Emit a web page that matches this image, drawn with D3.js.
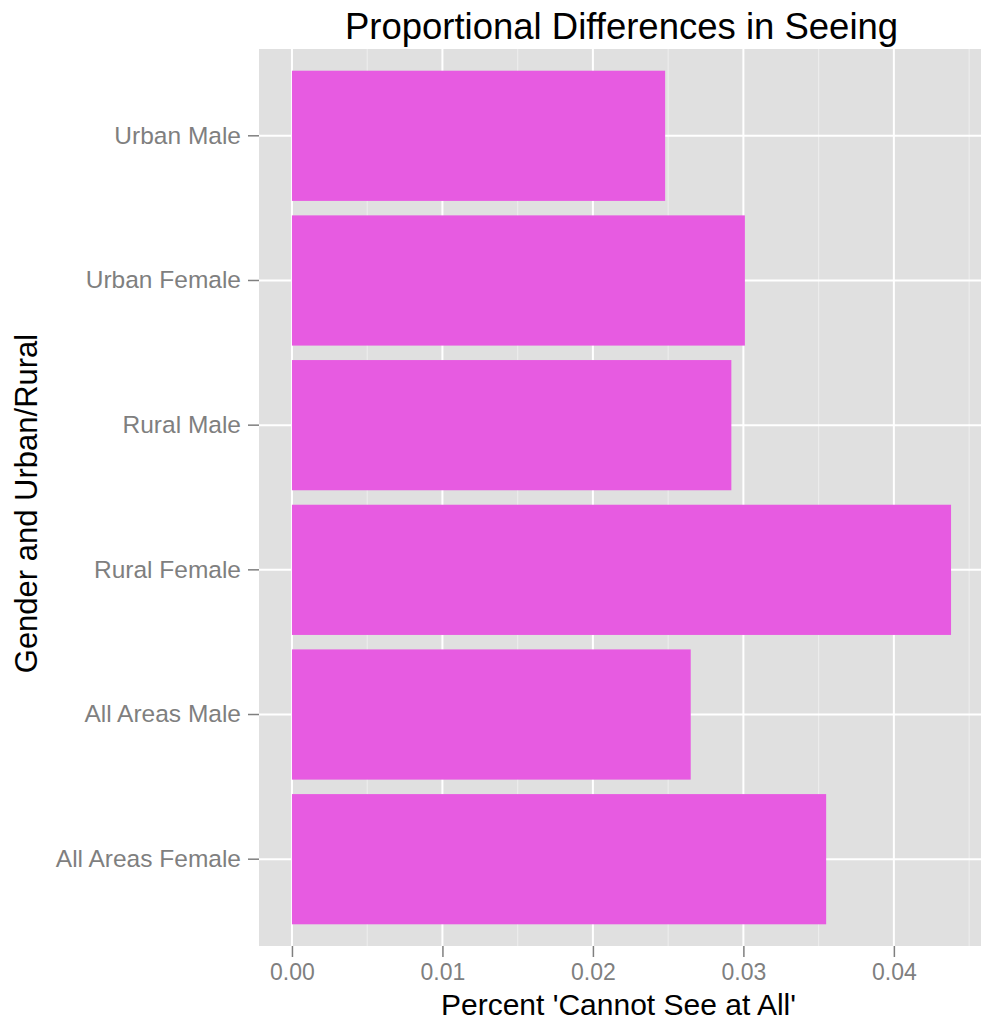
<!DOCTYPE html>
<html>
<head>
<meta charset="utf-8">
<title>Proportional Differences in Seeing</title>
<script src="https://d3js.org/d3.v7.min.js"></script>
<style>
body { margin: 0; background: #fff; }
svg text { font-family: "Liberation Sans", Arial, sans-serif; }
</style>
</head>
<body>
<div id="container"></div>
<script>
// ---------------- data ----------------
var categories = ["Urban Male", "Urban Female", "Rural Male", "Rural Female", "All Areas Male", "All Areas Female"];
var values = [0.0248, 0.0301, 0.0292, 0.0438, 0.0265, 0.0355];
var xTicks = [0, 0.01, 0.02, 0.03, 0.04];
var xMinor = [0.005, 0.015, 0.025, 0.035, 0.045];

var W = 981, H = 1029;
var panel = { left: 259, right: 984, top: 49, bottom: 946 };

var svg = d3.select("#container").append("svg")
    .attr("width", W)
    .attr("height", H);

// scales
var maxV = d3.max(values);
var pad = maxV * 0.05;
var x = d3.scaleLinear()
    .domain([-pad, maxV + pad])
    .range([panel.left, panel.right]);

var y = d3.scaleBand()
    .domain(categories)
    .range([panel.top, panel.bottom])
    .paddingInner(0.1)
    .paddingOuter(0.15);

var yc = function(d) { return y(d) + y.bandwidth() / 2; };

// panel background
svg.append("rect")
    .attr("x", panel.left)
    .attr("y", panel.top)
    .attr("width", panel.right - panel.left)
    .attr("height", panel.bottom - panel.top)
    .attr("fill", "#e0e0e0");

// grid
svg.append("g").selectAll("line")
    .data(xMinor)
    .join("line")
    .attr("x1", function(d) { return x(d); })
    .attr("x2", function(d) { return x(d); })
    .attr("y1", panel.top).attr("y2", panel.bottom)
    .attr("stroke", "#eeeeee").attr("stroke-width", 1);

svg.append("g").selectAll("line")
    .data(xTicks)
    .join("line")
    .attr("x1", function(d) { return x(d); })
    .attr("x2", function(d) { return x(d); })
    .attr("y1", panel.top).attr("y2", panel.bottom)
    .attr("stroke", "#ffffff").attr("stroke-width", 2);

svg.append("g").selectAll("line")
    .data(categories)
    .join("line")
    .attr("x1", panel.left).attr("x2", panel.right)
    .attr("y1", yc).attr("y2", yc)
    .attr("stroke", "#ffffff").attr("stroke-width", 2);

// bars
svg.append("g").selectAll("rect")
    .data(categories)
    .join("rect")
    .attr("x", x(0))
    .attr("y", function(d) { return y(d); })
    .attr("width", function(d, i) { return x(values[i]) - x(0); })
    .attr("height", y.bandwidth())
    .attr("fill", "#e75be1");

// axes
var xAxis = svg.append("g")
    .attr("transform", "translate(0," + panel.bottom + ")")
    .call(d3.axisBottom(x).tickValues(xTicks).tickFormat(d3.format(".2f")).tickSize(11).tickPadding(7));
xAxis.select(".domain").remove();
xAxis.selectAll(".tick line").attr("stroke", "#7f7f7f").attr("stroke-width", 1.5);
xAxis.selectAll(".tick text").attr("fill", "#7f7f7f").style("font-size", "23px");

var yAxis = svg.append("g")
    .attr("transform", "translate(" + panel.left + ",0)")
    .call(d3.axisLeft(y).tickSize(11).tickPadding(7));
yAxis.select(".domain").remove();
yAxis.selectAll(".tick line").attr("stroke", "#7f7f7f").attr("stroke-width", 1.5);
yAxis.selectAll(".tick text").attr("fill", "#7f7f7f").style("font-size", "24.5px");

// titles
svg.append("text")
    .attr("x", (panel.left + panel.right) / 2).attr("y", 39)
    .attr("text-anchor", "middle")
    .style("font-size", "36.5px")
    .attr("fill", "#000")
    .text("Proportional Differences in Seeing");

svg.append("text")
    .attr("x", (panel.left + panel.right) / 2 - 3).attr("y", 1015)
    .attr("text-anchor", "middle")
    .style("font-size", "30px")
    .attr("fill", "#000")
    .text("Percent 'Cannot See at All'");

svg.append("text")
    .attr("transform", "translate(37," + ((panel.top + panel.bottom) / 2 + 6) + ") rotate(-90)")
    .attr("text-anchor", "middle")
    .style("font-size", "31px")
    .attr("fill", "#000")
    .text("Gender and Urban/Rural");
</script>
</body>
</html>
